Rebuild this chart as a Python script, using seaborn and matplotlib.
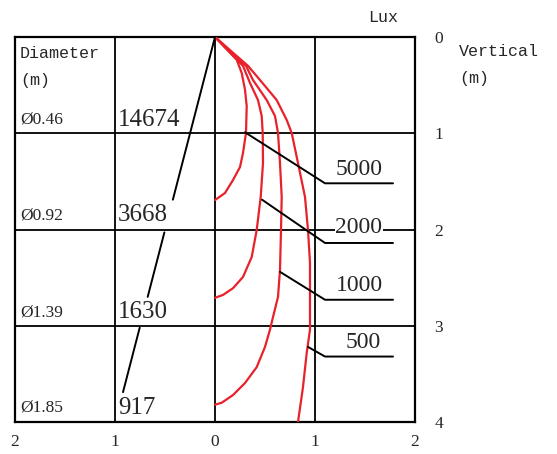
import numpy as np
import pandas as pd
import seaborn as sns
import matplotlib
matplotlib.use("Agg")
import matplotlib.pyplot as plt

# isolux curves (horizontal offset x, vertical depth y)
lux_levels = ["5000", "2000", "1000", "500"]
curve_5000_x = [0, 0.217, 0.267, 0.30, 0.317, 0.31, 0.28, 0.25, 0.18, 0.10, 0.0]
curve_5000_y = [0, 0.236, 0.374, 0.548, 0.717, 0.997, 1.205, 1.351, 1.486, 1.621, 1.694]
curve_2000_x = [0, 0.28, 0.35, 0.43, 0.467, 0.477, 0.48, 0.457, 0.417, 0.367, 0.28, 0.18, 0.08, 0.0]
curve_2000_y = [0, 0.30, 0.478, 0.655, 0.821, 0.997, 1.31, 1.662, 2.005, 2.286, 2.493, 2.61, 2.68, 2.71]
curve_1000_x = [0, 0.31, 0.38, 0.517, 0.60, 0.63, 0.65, 0.667, 0.66, 0.65, 0.63, 0.58, 0.55,
                0.50, 0.417, 0.30, 0.18, 0.067, 0.0]
curve_1000_y = [0, 0.30, 0.447, 0.655, 0.821, 0.997, 1.31, 1.662, 2.005, 2.42, 2.70, 2.91, 3.04,
                3.22, 3.43, 3.595, 3.72, 3.80, 3.82]
curve_500_x = [0, 0.33, 0.45, 0.617, 0.717, 0.767, 0.83, 0.90, 0.93, 0.95, 0.95, 0.917, 0.88, 0.83]
curve_500_y = [0, 0.30, 0.447, 0.655, 0.862, 0.997, 1.31, 1.662, 2.005, 2.348, 3.04, 3.283, 3.636, 4.0]

# leader lines from curve to label (bend point, then horizontal)
leader_start_x = [0.30, 0.47, 0.65, 0.93]
leader_start_y = [0.99, 1.69, 2.44, 3.22]
leader_bend_x = 1.10
leader_end_x = 1.78
leader_y = [1.52, 2.14, 2.73, 3.32]
lux_label_y = [1.38, 1.98, 2.58, 3.17]

# central lux at the spot for each diameter
spot_diam = ["Ø0.46", "Ø0.92", "Ø1.39", "Ø1.85"]
spot_lux = ["14674", "3668", "1630", "917"]
spot_y = [0.86, 1.85, 2.86, 3.85]
diag_end = (-0.92, 3.69)
diag_gaps = [(1.69, 2.03), (2.70, 3.02)]

x_ticks = [-2, -1, 0, 1, 2]
x_tick_labels = ["2", "1", "0", "1", "2"]
y_ticks = [0, 1, 2, 3, 4]

curves = pd.concat([
    pd.DataFrame({"x": curve_5000_x, "y": curve_5000_y, "lux": "5000"}),
    pd.DataFrame({"x": curve_2000_x, "y": curve_2000_y, "lux": "2000"}),
    pd.DataFrame({"x": curve_1000_x, "y": curve_1000_y, "lux": "1000"}),
    pd.DataFrame({"x": curve_500_x, "y": curve_500_y, "lux": "500"}),
], ignore_index=True)

sns.set_style("white")
plt.rcParams["font.family"] = ["Liberation Serif", "DejaVu Serif"]

fig = plt.figure(figsize=(5.57, 4.54), dpi=100)
ax = fig.add_axes([15 / 557, 32 / 454, 400 / 557, 385 / 454])

sns.lineplot(data=curves, x="x", y="y", hue="lux", hue_order=lux_levels,
             palette=["#e8212b"] * 4, sort=False, estimator=None,
             linewidth=1.6, legend=False, ax=ax, zorder=3)
for ln in ax.lines:
    ln.set_solid_joinstyle("round")

# grid and frame
for gx in [-1, 0, 1]:
    ax.axvline(gx, color="black", lw=1.3, zorder=1)
for gy in [1, 2, 3]:
    ax.axhline(gy, color="black", lw=1.3, zorder=1)
for sp in ax.spines.values():
    sp.set_color("black")
    sp.set_linewidth(1.6)

ax.set_xlim(-2, 2)
ax.set_ylim(4, 0)
ax.set_xticks(x_ticks)
ax.set_xticklabels(x_tick_labels)
ax.set_yticks(y_ticks)
ax.set_yticklabels([str(t) for t in y_ticks])
ax.yaxis.tick_right()
ax.tick_params(axis="both", length=0, labelsize=12.5)
ax.tick_params(axis="x", pad=9)
ax.tick_params(axis="y", pad=14)
ax.set_xlabel("")
ax.set_ylabel("")

# leader lines and lux labels
for i, lab in enumerate(lux_levels):
    ax.plot([leader_start_x[i], leader_bend_x, leader_end_x],
            [leader_start_y[i], leader_y[i], leader_y[i]],
            color="black", lw=1.4, zorder=4)
    ax.text(1.44 if lab != "500" else 1.48, lux_label_y[i], lab, ha="center", va="center",
            fontsize=17, zorder=5,
            bbox=dict(facecolor="white", edgecolor="none", pad=0.5) if lab == "2000" else None)

# diagonal line from the lamp to the spot values
ys = [0.0]
for g0, g1 in diag_gaps:
    ys += [g0, g1]
ys.append(diag_end[1])
for k in range(0, len(ys), 2):
    y0, y1 = ys[k], ys[k + 1]
    ax.plot([diag_end[0] * y0 / diag_end[1], diag_end[0] * y1 / diag_end[1]], [y0, y1],
            color="black", lw=1.4, zorder=4)

for d, v, y in zip(spot_diam, spot_lux, spot_y):
    ax.text(-1.95, y, d, ha="left", va="center", fontsize=12.5, zorder=5)
    ax.text(-0.97, y, v, ha="left", va="center", fontsize=18, zorder=5)

mono = ["Liberation Mono", "DejaVu Sans Mono"]
ax.text(-1.95, 0.17, "Diameter", ha="left", va="center", fontsize=12, family=mono)
ax.text(-1.95, 0.45, "(m)", ha="left", va="center", fontsize=12, family=mono)
fig.text(383 / 557, 1 - 18 / 454, "Lux", ha="center", va="center", fontsize=12, family=mono)
fig.text(459 / 557, 1 - 52 / 454, "Vertical", ha="left", va="center", fontsize=12, family=mono)
fig.text(459 / 557, 1 - 78 / 454, "(m)", ha="left", va="center", fontsize=12, family=mono)

fig.savefig("out.png", dpi=100, facecolor="white")
